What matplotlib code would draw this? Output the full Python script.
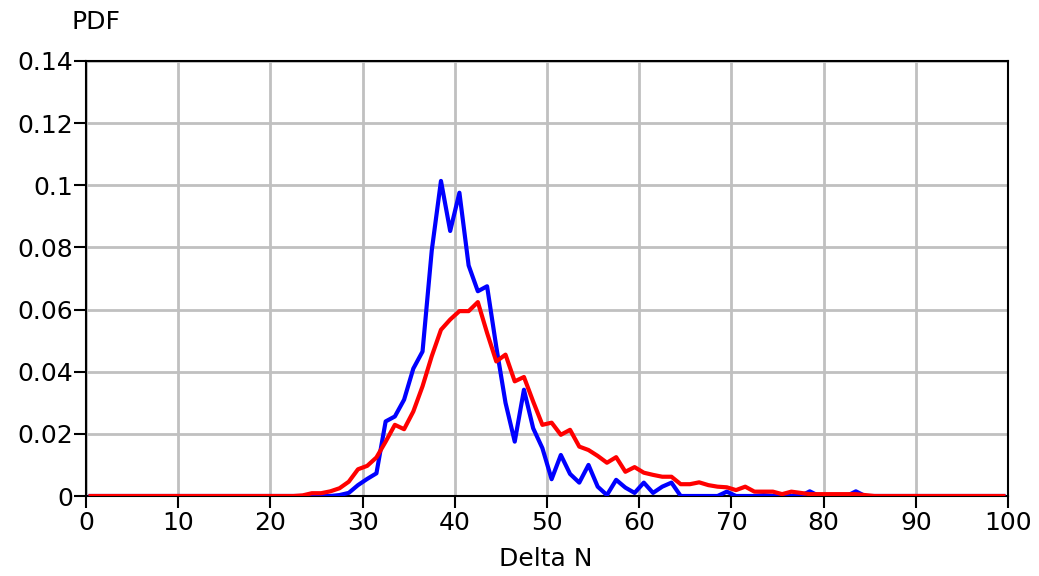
import numpy as np
import matplotlib
matplotlib.use("Agg")
import matplotlib.pyplot as plt

# bin centres of Delta N
delta_n = np.arange(0.5, 100, 1.0)

# blue series
pdf_blue = [0.0] * 27 + [
    0.0003, 0.001, 0.0035, 0.0055, 0.0073,            # 27-31
    0.024, 0.0256, 0.031, 0.041, 0.0465,              # 32-36
    0.079, 0.1014, 0.0853, 0.0976, 0.0742,            # 37-41
    0.0659, 0.0675, 0.048, 0.030, 0.0175,             # 42-46
    0.0342, 0.0218, 0.0154, 0.0054, 0.0132,           # 47-51
    0.0071, 0.0043, 0.010, 0.003, 0.0003,             # 52-56
    0.0052, 0.0027, 0.001, 0.0043, 0.001,             # 57-61
    0.003, 0.0043, 0.0, 0.0, 0.0,                     # 62-66
    0.0, 0.0, 0.0014, 0.0, 0.0,                       # 67-71
    0.0, 0.0003, 0.0, 0.0, 0.0,                       # 72-76
    0.0, 0.0015, 0.0, 0.0, 0.0,                       # 77-81
    0.0, 0.0015,                                      # 82-83
] + [0.0] * 16

# red series
pdf_red = [0.0] * 23 + [
    0.0002, 0.0009, 0.0009, 0.0015, 0.0025,           # 23-27
    0.0046, 0.0086, 0.0097, 0.0124, 0.0175,           # 28-32
    0.0229, 0.0215, 0.0272, 0.0353, 0.045,            # 33-37
    0.0535, 0.0568, 0.0595, 0.0595, 0.0624,           # 38-42
    0.0525, 0.0433, 0.0455, 0.0369, 0.0383,           # 43-47
    0.0304, 0.0229, 0.0236, 0.0197, 0.0213,           # 48-52
    0.0159, 0.0148, 0.0129, 0.0107, 0.0125,           # 53-57
    0.0078, 0.0093, 0.0075, 0.0068, 0.0062,           # 58-62
    0.0062, 0.0038, 0.0038, 0.0044, 0.0035,           # 63-67
    0.003, 0.0028, 0.0019, 0.003, 0.0014,             # 68-72
    0.0014, 0.0014, 0.0006, 0.0014, 0.001,            # 73-77
    0.0006, 0.0006, 0.0006, 0.0006, 0.0006,           # 78-82
    0.0006, 0.0003,                                   # 83-84
] + [0.0] * 15

x_ticks = list(range(0, 101, 10))
y_ticks = [0, 0.02, 0.04, 0.06, 0.08, 0.1, 0.12, 0.14]
y_labels = ["0", "0.02", "0.04", "0.06", "0.08", "0.1", "0.12", "0.14"]

W, H = 1039, 576
fig = plt.figure(figsize=(W / 100, H / 100), dpi=100)
ax = fig.add_axes([86 / W, 1 - 496 / H, (1008 - 86) / W, (496 - 61) / H])

ax.plot(delta_n, pdf_blue, color="#0000ff", lw=3, zorder=3)
ax.plot(delta_n, pdf_red, color="#ff0000", lw=3, zorder=4)

ax.set_xlim(0, 100)
ax.set_ylim(0, 0.14)
ax.set_xticks(x_ticks)
ax.set_yticks(y_ticks)
ax.set_yticklabels(y_labels)
ax.grid(True, color="#c0c0c0", lw=2)
ax.set_axisbelow(True)
ax.tick_params(labelsize=18, length=8.5, width=1.5, direction="out", color="black")
ax.tick_params(axis="y", pad=1)
ax.tick_params(axis="x", pad=2)
for s in ax.spines.values():
    s.set_linewidth(1.5)

fig.text(546 / W, 1 - 559 / H, "Delta N", fontsize=18, ha="center", va="center")
fig.text(96 / W, 1 - 22 / H, "PDF", fontsize=18, ha="center", va="center")

fig.savefig("out.png", dpi=100)
